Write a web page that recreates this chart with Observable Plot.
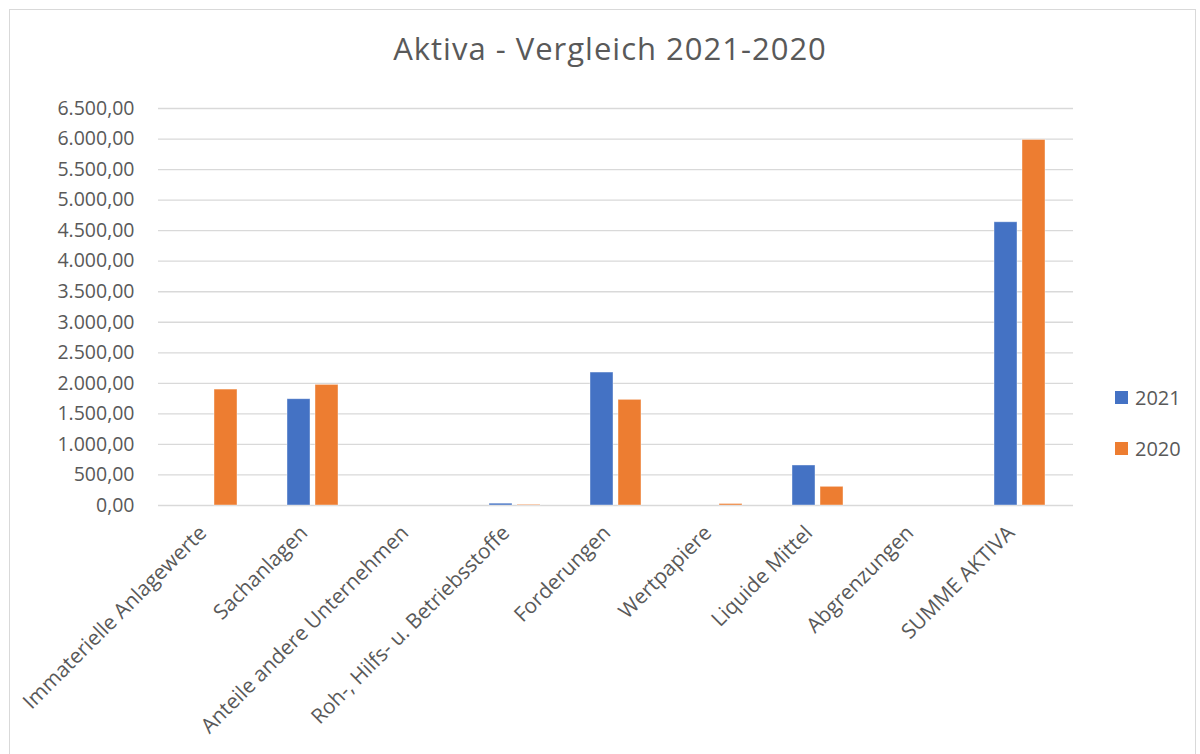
<!DOCTYPE html>
<html>
<head>
<meta charset="utf-8">
<script src="https://cdn.jsdelivr.net/npm/d3@7"></script>
<script src="https://cdn.jsdelivr.net/npm/@observablehq/plot@0.6"></script>
<style>
  html, body { margin: 0; padding: 0; background: #fff; }
  body { width: 1200px; height: 754px; overflow: hidden; position: relative; font-family: "Open Sans", sans-serif; }
  #border { position: absolute; left: 9px; top: 9px; width: 1187px; height: 760px; border: 1px solid #d9d9d9; box-sizing: border-box; z-index: 5; pointer-events: none; }
  #title { position: absolute; left: 0; top: 28px; width: 1220px; text-align: center; font-size: 31px; line-height: 40px; letter-spacing: 1px; color: #595959; }
  #chart { position: absolute; left: 0; top: 95px; }
  #legend { position: absolute; left: 1115px; top: 384px; color: #595959; font-size: 20px; }
  .item { display: flex; align-items: center; height: 27px; margin-bottom: 24px; }
  .sw { width: 13px; height: 13px; margin-right: 7px; }
</style>
</head>
<body>
<div id="border"></div>
<div id="title">Aktiva - Vergleich 2021-2020</div>
<div id="chart"></div>
<div id="legend"></div>
<script>
const categories = ["Immaterielle Anlagewerte", "Sachanlagen", "Anteile andere Unternehmen", "Roh-, Hilfs- u. Betriebsstoffe", "Forderungen", "Wertpapiere", "Liquide Mittel", "Abgrenzungen", "SUMME AKTIVA"];
const values2021 = [0, 1740, 0, 30, 2177, 0, 655, 0, 4637];
const values2020 = [1898, 1975, 0, 12, 1730, 25, 306, 0, 5985];
const series = ["2021", "2020"];
const colors = ["#4472c4", "#ed7d31"];
const yTicks = d3.range(0, 6501, 500);

const rows2021 = categories.map((c, i) => ({cat: c, year: "2021", value: values2021[i]}));
const rows2020 = categories.map((c, i) => ({cat: c, year: "2020", value: values2020[i]}));

const de = d3.formatLocale({decimal: ",", thousands: ".", grouping: [3], currency: ["", " €"]});
const fmt = de.format(",.2f");

const inset = 28;
const chart = Plot.plot({
  width: 1200,
  height: 659,
  marginTop: 13,
  marginLeft: 158,
  marginRight: 127,
  marginBottom: 249,
  style: {fontFamily: "'Open Sans', sans-serif", color: "#595959", background: "transparent"},
  x: {domain: categories, paddingInner: 0.5, paddingOuter: 0.25, label: null},
  y: {domain: [0, 6500], label: null},
  color: {domain: series, range: colors},
  marks: [
    Plot.gridY(yTicks, {stroke: "#d9d9d9", strokeOpacity: 1, strokeWidth: 1.3}),
    Plot.barY(rows2021, {x: "cat", y: "value", fill: "year", insetRight: inset, stroke: "#ffffff", strokeOpacity: 0.5, strokeWidth: 0.8}),
    Plot.barY(rows2020, {x: "cat", y: "value", fill: "year", insetLeft: inset, stroke: "#ffffff", strokeOpacity: 0.5, strokeWidth: 0.8}),
    Plot.ruleX([0], {frameAnchor: "left", y1: 0, y2: 6500, stroke: "#4472c4", strokeWidth: 1.3}),
    Plot.axisY({ticks: yTicks, tickFormat: fmt, tickSize: 0, tickPadding: 24, fontSize: 19.5, fill: "#595959", label: null}),
    Plot.axisX({tickRotate: -45, tickSize: 0, tickPadding: 24, dx: -9, fontSize: 20.8, fill: "#595959", label: null})
  ]
});
document.getElementById("chart").appendChild(chart);

const legend = document.getElementById("legend");
series.forEach((s, i) => {
  const it = document.createElement("div");
  it.className = "item";
  const sw = document.createElement("div");
  sw.className = "sw";
  sw.style.background = colors[i];
  const t = document.createElement("span");
  t.textContent = s;
  it.appendChild(sw); it.appendChild(t);
  legend.appendChild(it);
});
</script>
</body>
</html>
